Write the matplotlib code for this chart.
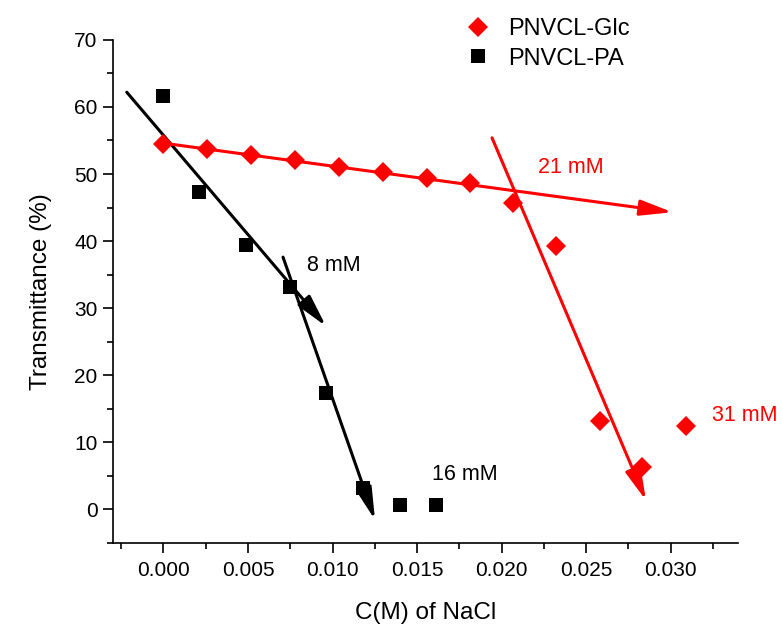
import matplotlib
matplotlib.use("Agg")
import matplotlib.pyplot as plt
from matplotlib.ticker import MultipleLocator, FormatStrFormatter
from matplotlib.lines import Line2D

plt.rcParams['font.family'] = ['Liberation Sans', 'DejaVu Sans']

# Data
glc_x = [0.0, 0.0026, 0.0052, 0.0078, 0.0104, 0.0130, 0.0156, 0.0181, 0.0207, 0.0232, 0.0258, 0.0283, 0.0309]
glc_y = [54.5, 53.7, 52.8, 52.1, 51.0, 50.3, 49.4, 48.6, 45.7, 39.2, 13.2, 6.3, 12.4]
pa_x = [0.0, 0.0021, 0.0049, 0.0075, 0.0096, 0.0118, 0.0140, 0.0161]
pa_y = [61.6, 47.3, 39.4, 33.1, 17.3, 3.2, 0.6, 0.6]

# Fit lines (start -> arrow tip)
pa_fit1_x = [-0.00217, 0.00961]
pa_fit1_y = [62.2, 27.3]
pa_fit2_x = [0.00707, 0.01251]
pa_fit2_y = [37.6, -1.6]
glc_fit1_x = [0.0, 0.0301]
glc_fit1_y = [54.6, 44.3]
glc_fit2_x = [0.01943, 0.02854]
glc_fit2_y = [55.4, 1.3]

labels_text = ["8 mM", "16 mM", "21 mM", "31 mM"]
labels_x = [0.0101, 0.0178, 0.0241, 0.0344]
labels_y = [36.4, 5.1, 50.9, 14.0]
labels_color = ["black", "black", "red", "red"]

fig = plt.figure(figsize=(7.83, 6.30), dpi=100)
ax = fig.add_axes([0.144, 0.1386, 0.799, 0.798])

ax.plot(glc_x, glc_y, linestyle='none', marker='D', ms=10, color='red', mew=0, zorder=3)
ax.plot(pa_x, pa_y, linestyle='none', marker='s', ms=10, color='black', mew=0, zorder=3)

def arrow(xs, ys, color):
    ax.annotate('', xy=(xs[1], ys[1]), xytext=(xs[0], ys[0]),
                arrowprops=dict(arrowstyle='-|>,head_length=1.4,head_width=0.34', color=color, lw=2.2,
                                shrinkA=0, shrinkB=0, mutation_scale=14),
                zorder=2)

arrow(pa_fit1_x, pa_fit1_y, 'black')
arrow(pa_fit2_x, pa_fit2_y, 'black')
arrow(glc_fit1_x, glc_fit1_y, 'red')
arrow(glc_fit2_x, glc_fit2_y, 'red')

for t, x, y, c in zip(labels_text, labels_x, labels_y, labels_color):
    ax.text(x, y, t, color=c, fontsize=15.5, ha='center', va='center', clip_on=False)

ax.set_xlim(-0.003, 0.034)
ax.set_ylim(-5, 70)
ax.xaxis.set_major_locator(MultipleLocator(0.005))
ax.xaxis.set_minor_locator(MultipleLocator(0.0025))
ax.xaxis.set_major_formatter(FormatStrFormatter('%.3f'))
ax.yaxis.set_major_locator(MultipleLocator(10))
ax.yaxis.set_minor_locator(MultipleLocator(5))

for s in ['top', 'right']:
    ax.spines[s].set_visible(False)
for s in ['left', 'bottom']:
    ax.spines[s].set_linewidth(1.2)
ax.tick_params(which='major', direction='out', length=7, width=1.2, labelsize=15)
ax.tick_params(which='minor', direction='out', length=4, width=1.2)
ax.tick_params(axis='x', which='major', pad=6)
ax.tick_params(axis='y', which='major', pad=4)

ax.set_xlabel('C(M) of NaCl', fontsize=17.5, labelpad=16)
ax.set_ylabel('Transmittance (%)', fontsize=17.5, labelpad=16)

handles = [Line2D([], [], linestyle='none', marker='D', ms=10, color='red', mew=0),
           Line2D([], [], linestyle='none', marker='s', ms=10, color='black', mew=0)]
fig.legend(handles, ['PNVCL-Glc', 'PNVCL-PA'], loc='upper left', bbox_to_anchor=(0.5745, 0.998),
           frameon=False, fontsize=17, handlelength=1.0, handletextpad=0.77, labelspacing=0.33,
           borderaxespad=0.3)

fig.savefig('out.png', dpi=100)
